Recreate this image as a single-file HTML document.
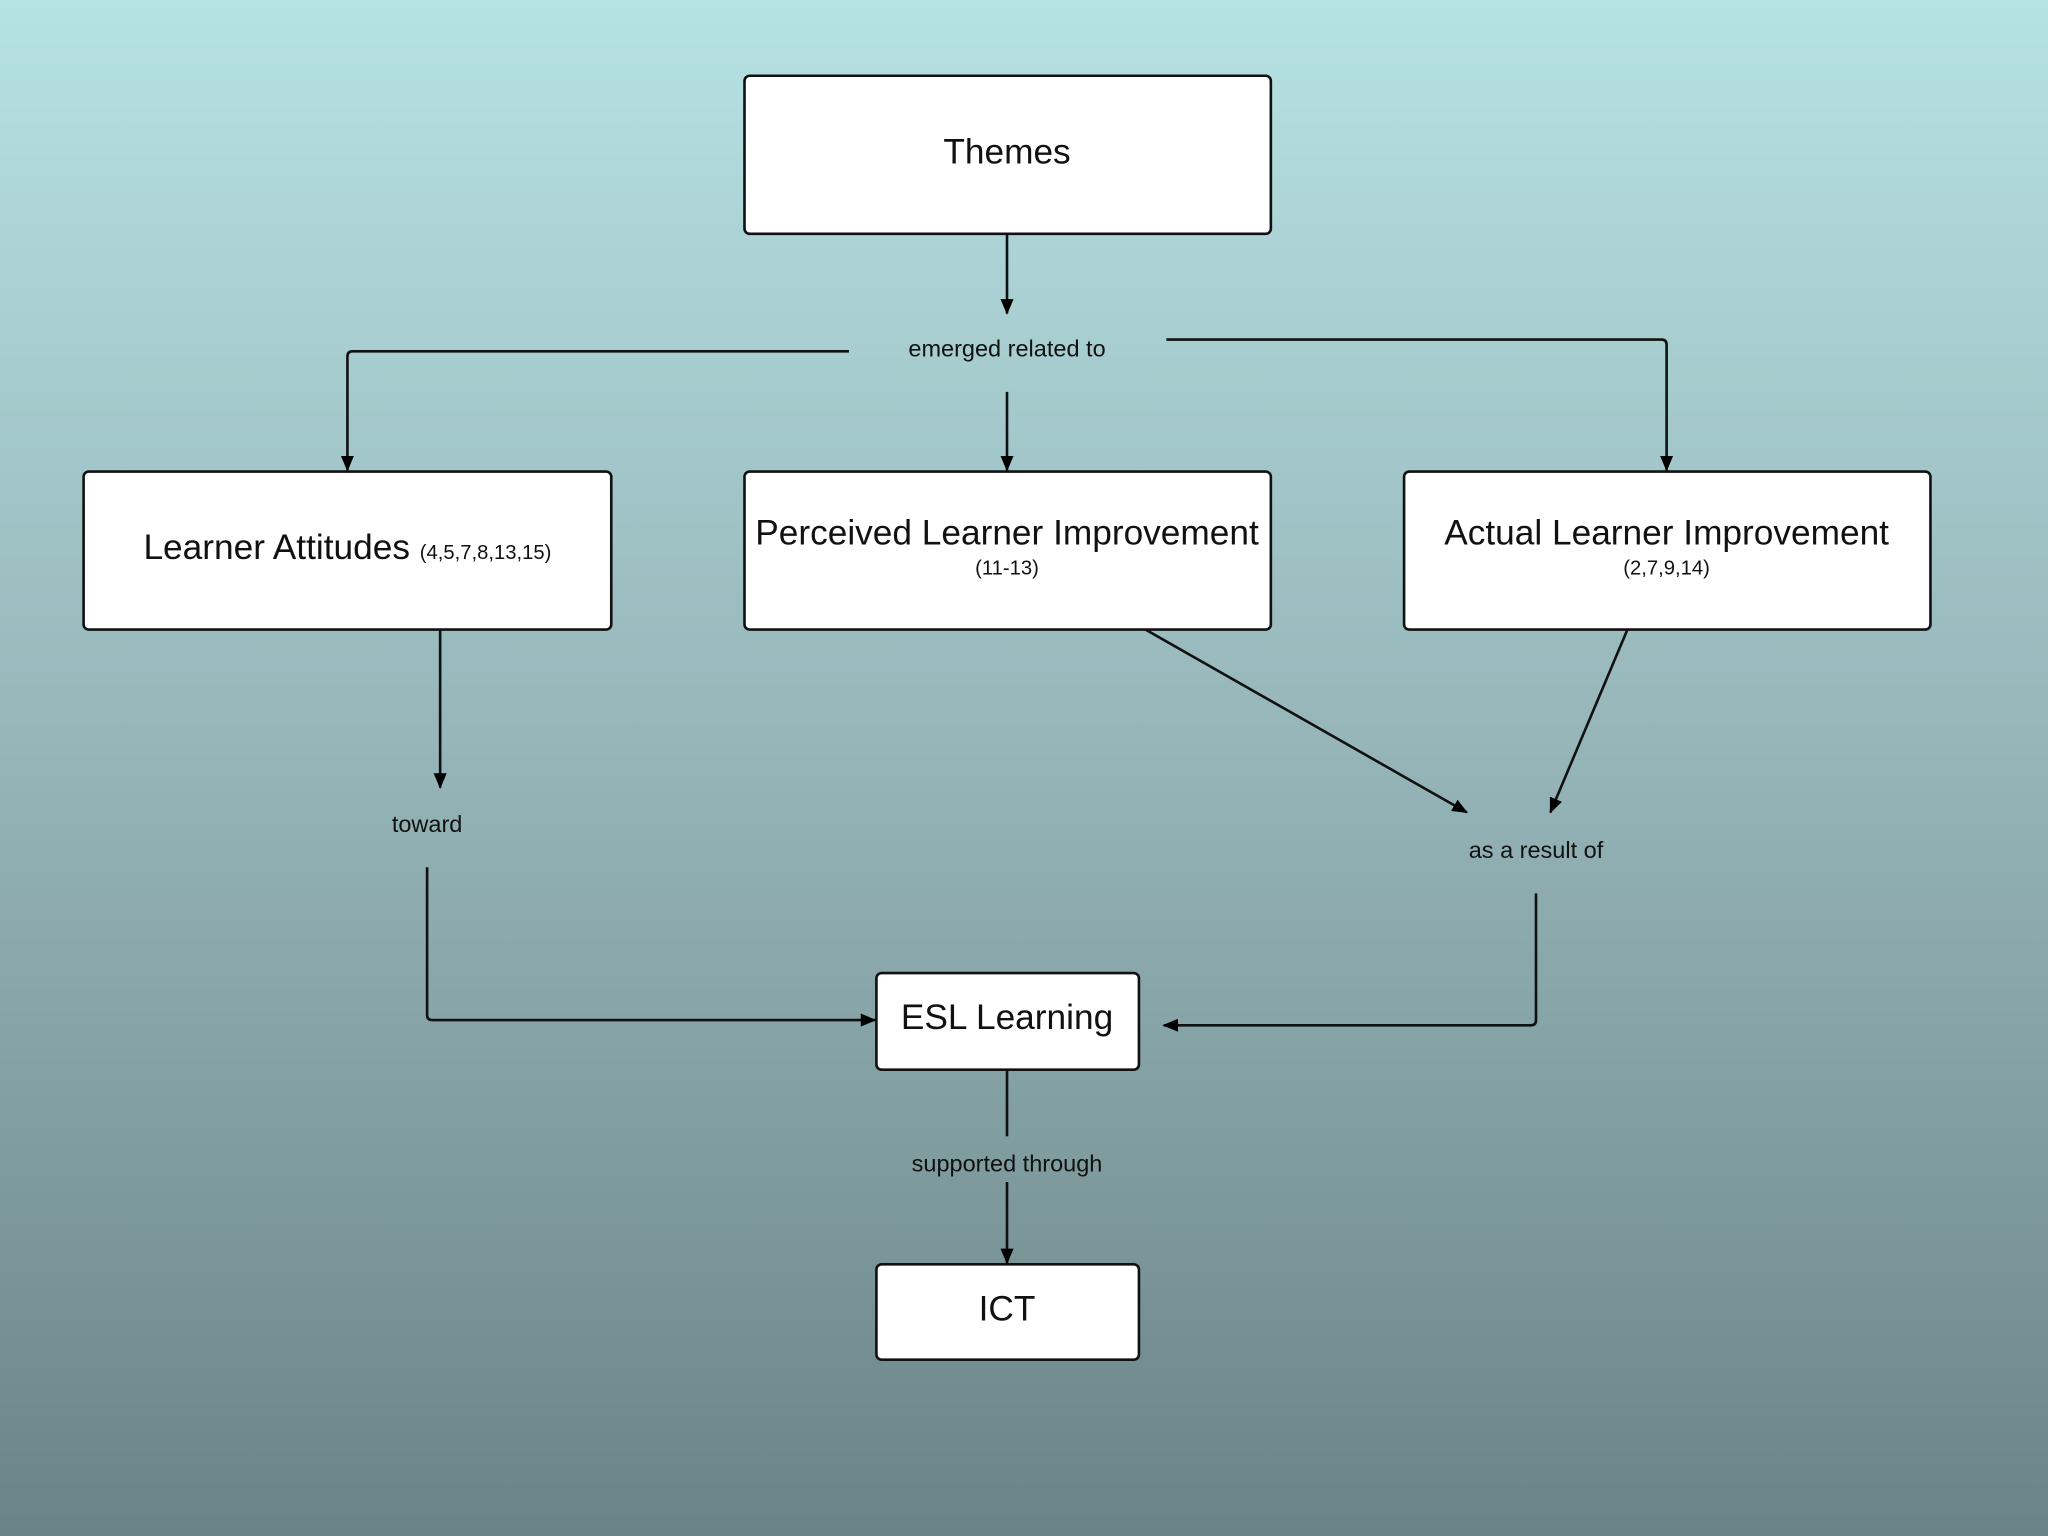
<!DOCTYPE html>
<html><head><meta charset="utf-8"><style>
html,body{margin:0;padding:0;width:2048px;height:1536px;overflow:hidden}
svg{display:block}
text{font-family:"Liberation Sans",sans-serif;fill:#111}
</style></head><body>
<svg width="2048" height="1536" viewBox="0 0 1568 1176" xmlns="http://www.w3.org/2000/svg">
<defs>
<linearGradient id="bg" x1="0" y1="0" x2="0" y2="1">
<stop offset="0" stop-color="#b6e2e3"/>
<stop offset="0.5" stop-color="#95b4b8"/>
<stop offset="1" stop-color="#6a8486"/>
</linearGradient>
<marker id="ar" markerWidth="12" markerHeight="10" refX="11" refY="5" orient="auto" markerUnits="userSpaceOnUse">
<path d="M0,0 L12,5 L0,10 Z" fill="#000"/>
</marker>
</defs>
<rect width="1568" height="1176" fill="url(#bg)"/>
<g fill="#fff" stroke="#111" stroke-width="2">
<rect x="570" y="58" width="403" height="121" rx="4"/>
<rect x="64" y="361" width="404" height="121" rx="4"/>
<rect x="570" y="361" width="403" height="121" rx="4"/>
<rect x="1075" y="361" width="403" height="121" rx="4"/>
<rect x="671" y="745" width="201" height="74" rx="4"/>
<rect x="671" y="968" width="201" height="73" rx="4"/>
</g>
<g fill="none" stroke="#111" stroke-width="2" marker-end="url(#ar)">
<path d="M771,179 V240"/>
<path d="M650,269 H270 Q266,269 266,273 V360"/>
<path d="M771,300 V360"/>
<path d="M893,260 H1272 Q1276,260 1276,264 V360"/>
<path d="M877,482 L1123,622"/>
<path d="M1246,482 L1187,622"/>
<path d="M337,482 V603"/>
<path d="M327,664 V777 Q327,781 331,781 H670"/>
<path d="M1176,684 V781 Q1176,785 1172,785 H891"/>
<path d="M771,905 V967"/>
</g>
<path d="M771,819 V870" stroke="#111" stroke-width="2"/>
<g text-anchor="middle">
<text x="771" y="125" font-size="27">Themes</text>
<text x="266" y="428" font-size="27">Learner Attitudes <tspan font-size="15.5">(4,5,7,8,13,15)</tspan></text>
<text x="771" y="417" font-size="27">Perceived Learner Improvement</text>
<text x="771" y="440" font-size="15.5">(11-13)</text>
<text x="1276" y="417" font-size="27">Actual Learner Improvement</text>
<text x="1276" y="440" font-size="15.5">(2,7,9,14)</text>
<text x="771" y="788" font-size="27">ESL Learning</text>
<text x="771" y="1011" font-size="27">ICT</text>
<text x="771" y="273" font-size="18">emerged related to</text>
<text x="327" y="637" font-size="18">toward</text>
<text x="1176" y="657" font-size="18">as a result of</text>
<text x="771" y="897" font-size="18">supported through</text>
</g>
</svg>
</body></html>
